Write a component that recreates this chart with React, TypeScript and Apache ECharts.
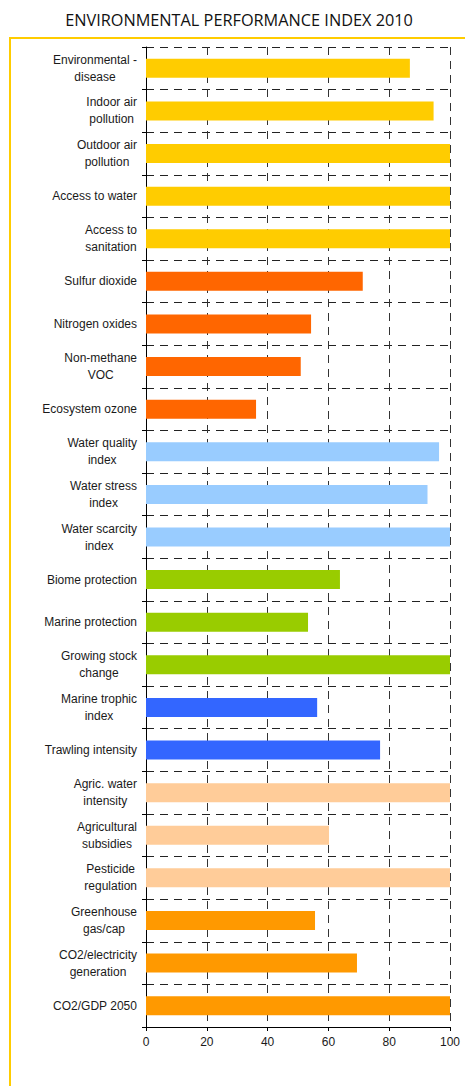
import React, { useEffect, useRef } from "react";
import * as echarts from "echarts";

const categories: string[] = [
  "Environmental -\ndisease",
  "Indoor air\npollution",
  "Outdoor air\npollution",
  "Access to water",
  "Access to\nsanitation",
  "Sulfur dioxide",
  "Nitrogen oxides",
  "Non-methane\nVOC",
  "Ecosystem ozone",
  "Water quality\nindex",
  "Water stress\nindex",
  "Water scarcity\nindex",
  "Biome protection",
  "Marine protection",
  "Growing stock\nchange",
  "Marine trophic\nindex",
  "Trawling intensity",
  "Agric. water\nintensity",
  "Agricultural\nsubsidies",
  "Pesticide\nregulation",
  "Greenhouse\ngas/cap",
  "CO2/electricity\ngeneration",
  "CO2/GDP 2050",
];

const values: number[] = [
  86.8, 94.6, 100, 100, 100, 71.3, 54.3, 50.9, 36.2, 96.4, 92.6, 100, 63.8,
  53.3, 100, 56.3, 77, 100, 60.2, 100, 55.6, 69.4, 100,
];

const groups: string[] = [
  "health", "health", "health", "health", "health",
  "air", "air", "air", "air",
  "water", "water", "water",
  "biodiversity", "biodiversity", "biodiversity",
  "fisheries", "fisheries",
  "agriculture", "agriculture", "agriculture",
  "climate", "climate", "climate",
];

const groupColors: Record<string, string> = {
  health: "#FFCC00",
  air: "#FF6600",
  water: "#99CCFF",
  biodiversity: "#99CC00",
  fisheries: "#3366FF",
  agriculture: "#FFCC99",
  climate: "#FF9900",
};

const valueTicks: number[] = [0, 20, 40, 60, 80, 100];

const TITLE = "ENVIRONMENTAL PERFORMANCE INDEX 2010";

export default function App() {
  const ref = useRef<HTMLDivElement>(null);
  useEffect(() => {
    if (!ref.current) return;
    const chart = echarts.init(ref.current, undefined, { renderer: "svg" });
    const font = "'Liberation Sans', Arial, sans-serif";
    chart.setOption({
      animation: false,
      backgroundColor: "#ffffff",
      title: {
        text: TITLE,
        left: 234,
        textAlign: "center",
        top: 7,
        textStyle: {
          fontFamily: "'Open Sans', sans-serif",
          fontSize: 16.3,
          fontWeight: "normal",
          color: "#111111",
        },
      },
      graphic: [
        {
          type: "rect",
          shape: { x: 10, y: 38, width: 520, height: 1100 },
          style: { fill: "none", stroke: "#FFCC00", lineWidth: 2 },
          silent: true,
          z: -10,
        },
      ],
      grid: { left: 146, right: 15, top: 47, bottom: 59, containLabel: false },
      xAxis: {
        type: "value",
        min: valueTicks[0],
        max: valueTicks[valueTicks.length - 1],
        interval: valueTicks[1] - valueTicks[0],
        axisLine: { show: true, lineStyle: { color: "#000", width: 1 } },
        axisTick: { show: true, length: 4, lineStyle: { color: "#000" } },
        axisLabel: {
          margin: 9,
          fontFamily: font,
          fontSize: 12,
          color: "#1a1a1a",
        },
        splitLine: {
          show: true,
          lineStyle: { color: "#333", type: [8, 6], width: 1 },
        },
      },
      yAxis: {
        type: "category",
        inverse: true,
        data: categories,
        axisLine: { show: true, lineStyle: { color: "#000", width: 1 } },
        axisTick: { show: true, length: 4, lineStyle: { color: "#000" } },
        axisLabel: {
          margin: 9,
          fontFamily: font,
          fontSize: 12,
          color: "#1a1a1a",
          lineHeight: 17,
          align: "right",
          formatter: (v: string) =>
            v
              .split("\n")
              .map((l) => "{c|" + l + "}")
              .join("\n"),
          rich: {
            c: {
              align: "center",
              fontFamily: font,
              fontSize: 12,
              color: "#1a1a1a",
              lineHeight: 17,
            },
          },
        },
        splitLine: {
          show: true,
          lineStyle: { color: "#222", type: [8, 6], width: 1 },
        },
      },
      series: [
        {
          type: "bar",
          barWidth: 19,
          data: values.map((v, i) => ({
            value: v,
            itemStyle: { color: groupColors[groups[i]] },
          })),
        },
      ],
    });
    return () => chart.dispose();
  }, []);
  return (
    <div
      ref={ref}
      style={{ position: "fixed", left: 0, top: 0, width: 465, height: 1086 }}
    />
  );
}
